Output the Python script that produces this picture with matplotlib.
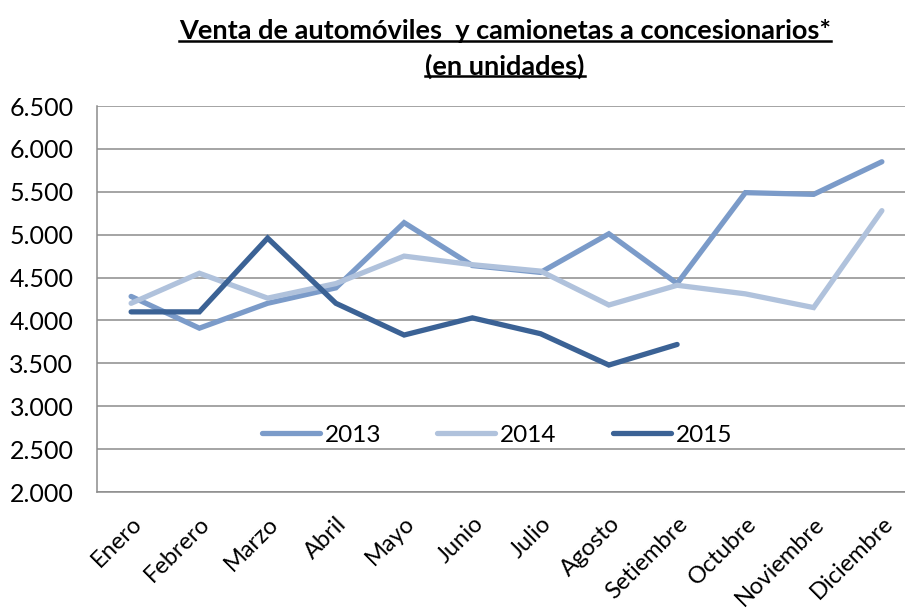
import matplotlib
matplotlib.use("Agg")
import matplotlib.pyplot as plt
from matplotlib.lines import Line2D
from matplotlib.ticker import FuncFormatter, MultipleLocator

months = ["Enero", "Febrero", "Marzo", "Abril", "Mayo", "Junio", "Julio",
          "Agosto", "Setiembre", "Octubre", "Noviembre", "Diciembre"]
v2013 = [4280, 3910, 4200, 4380, 5140, 4640, 4560, 5010, 4430, 5490, 5470, 5850]
v2014 = [4200, 4550, 4260, 4430, 4750, 4650, 4575, 4180, 4410, 4310, 4150, 5280]
v2015 = [4100, 4100, 4960, 4200, 3830, 4030, 3845, 3480, 3720]

title_lines = ["Venta de automóviles  y camionetas a concesionarios*", "(en unidades)"]

FONT = "Lato"
plt.rcParams["font.family"] = [FONT, "DejaVu Sans"]

fig = plt.figure(figsize=(9.05, 6.08), dpi=100)
ax = fig.add_axes([97/905, 1-492/608, (916-97)/905, (492-106)/608])

x = list(range(len(months)))
c13, c14, c15 = "#7B9BC9", "#B0C2DC", "#3B6295"
ax.plot(x, v2013, color=c13, lw=3.8, label="2013", solid_capstyle="round", solid_joinstyle="miter")
ax.plot(x, v2014, color=c14, lw=3.8, label="2014", solid_capstyle="round", solid_joinstyle="miter")
ax.plot(x[:len(v2015)], v2015, color=c15, lw=3.8, label="2015", solid_capstyle="round", solid_joinstyle="miter")

ax.set_xlim(-0.5, len(months) - 0.5)
ax.set_ylim(2000, 6500)
ax.yaxis.set_major_locator(MultipleLocator(500))
ax.yaxis.set_major_formatter(FuncFormatter(lambda v, p: f"{int(v):,}".replace(",", ".")))
ax.grid(axis="y", color="#8C8C8C", lw=1.1)
ax.set_axisbelow(True)
for s in ["top", "right"]:
    ax.spines[s].set_visible(False)
for s in ["left", "bottom"]:
    ax.spines[s].set_color("#8C8C8C")
    ax.spines[s].set_linewidth(1.1)
ax.tick_params(axis="both", length=0, colors="black")
ax.tick_params(axis="y", pad=17, labelsize=18)
ax.set_xticks(x)
ax.set_xticklabels(months, rotation=45, ha="right", va="top", rotation_mode="anchor", fontsize=17)
ax.tick_params(axis="x", pad=15)

leg = ax.legend(loc="center", bbox_to_anchor=(497/905, 1-435/608), bbox_transform=fig.transFigure,
                ncol=3, frameon=False, fontsize=17.5, handlelength=2.4, columnspacing=2.3,
                handletextpad=0.2)

t1 = fig.text(505/905, 1-31/608, title_lines[0], ha="center", va="center", fontsize=19.5, fontweight="bold")
t2 = fig.text(505/905, 1-66/608, title_lines[1], ha="center", va="center", fontsize=19.5, fontweight="bold")

fig.canvas.draw()
r = fig.canvas.get_renderer()
for t in (t1, t2):
    bb = t.get_window_extent(r).transformed(fig.transFigure.inverted())
    yline = bb.y0 + 0.004
    fig.add_artist(Line2D([bb.x0, bb.x1], [yline, yline], transform=fig.transFigure, color="black", lw=1.8))

fig.savefig("out.png", dpi=100)
